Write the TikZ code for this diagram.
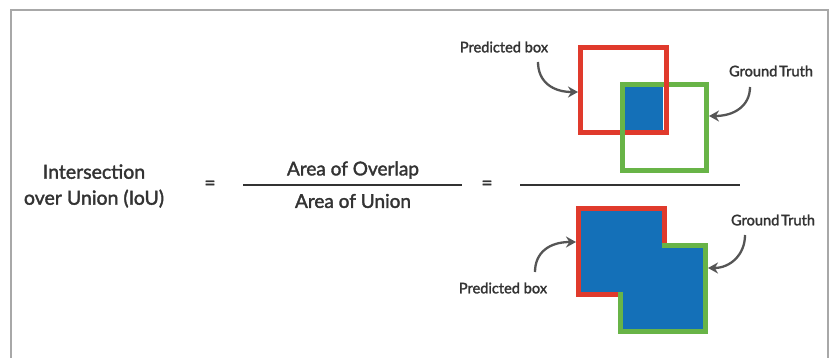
\documentclass[tikz,border=0pt]{standalone}
\usepackage{fontspec}
\setmainfont{Lato}
\newfontfamily\medfont{Lato}[FakeBold=1.8]
\usetikzlibrary{arrows.meta}
\definecolor{boxred}{HTML}{E03A2C}
\definecolor{boxgreen}{HTML}{68B447}
\definecolor{boxblue}{HTML}{1470B8}
\definecolor{ink}{HTML}{333333}
\definecolor{arrowgray}{HTML}{555555}
\definecolor{framegray}{HTML}{A8A8A8}
\tikzset{
  bigtext/.style={text=ink, font=\medfont\fontsize{19}{26}\selectfont, inner sep=0pt, align=center},
  smalltext/.style={text=ink, font=\medfont\fontsize{14.6}{17}\selectfont, inner sep=0pt},
  fracline/.style={draw=ink, line width=2.5pt},
  redbox/.style={draw=boxred, line width=5pt, minimum width=86pt, minimum height=85pt, inner sep=0pt},
  greenbox/.style={draw=boxgreen, line width=5pt, minimum width=84pt, minimum height=86pt, inner sep=0pt},
  pointer/.style={draw=arrowgray, line width=2.3pt, -{Stealth[length=10pt,width=11pt]}},
}
\begin{document}
\begin{tikzpicture}[x=1pt,y=-1pt]
\useasboundingbox (0,0) rectangle (832,358);
\fill[white] (0,0) rectangle (832,358);
% frame
\draw[framegray, line width=1.6pt] (11,360) -- (11,10) -- (828,10) -- (828,360);

% left text
\node[bigtext, font=\medfont\fontsize{19.5}{26}\selectfont] (iou) at (94,186) {Intersection\\over Union (IoU)};
\node[bigtext] (eq1) at (210,185) {=};
\node[bigtext] (num) at (353,170) {Area of Overlap};
\node[bigtext] (den) at (353,201) {Area of Union};
\coordinate (f1l) at (243,185);
\coordinate (f1r) at (462,185);
\draw[fracline] (f1l) -- (f1r);
\node[bigtext] (eq2) at (487,185) {=};
\coordinate (f2l) at (520,185);
\coordinate (f2r) at (740,185);
\draw[fracline] (f2l) -- (f2r);

% top: intersection
\fill[boxblue] (625,87) rectangle (663,130);
\node[greenbox] (gb1) at (664.5,127.5) {};
\node[redbox] (rb1) at (623.5,90) {};
\draw[boxgreen, line width=5pt] (622.5,124) -- (622.5,140);

% bottom: union
\node[redbox, fill=boxblue, minimum height=86pt] (rb2) at (621.5,251.5) {};
\node[greenbox, fill=boxblue, minimum width=85pt] (gb2) at (663,288.5) {};
\fill[boxblue] (581,211) rectangle (662,292);

% labels
\node[smalltext] (pb1) at (504,47) {Predicted box};
\node[smalltext] (gt1) at (771,71) {Ground\hspace{0.12em}Truth};
\node[smalltext] (gt2) at (773,220) {Ground\hspace{0.12em}Truth};
\node[smalltext] (pb2) at (503,288) {Predicted box};

\coordinate (a1) at (538,62);
\coordinate (a2) at (750,87);
\coordinate (a3) at (745,235);
\coordinate (a4) at (535,272);

\draw[pointer] (a1) .. controls (538,82) and (553,92) .. ([yshift=-2pt]rb1.west);
\draw[pointer] (a2) .. controls (750,106) and (734,116) .. ([yshift=11.5pt]gb1.east);
\draw[pointer] (a3) .. controls (745,255) and (730,268) .. ([yshift=20.5pt]gb2.east);
\draw[pointer] (a4) .. controls (535,252) and (550,242) .. ([yshift=9.5pt]rb2.west);
\end{tikzpicture}
\end{document}
